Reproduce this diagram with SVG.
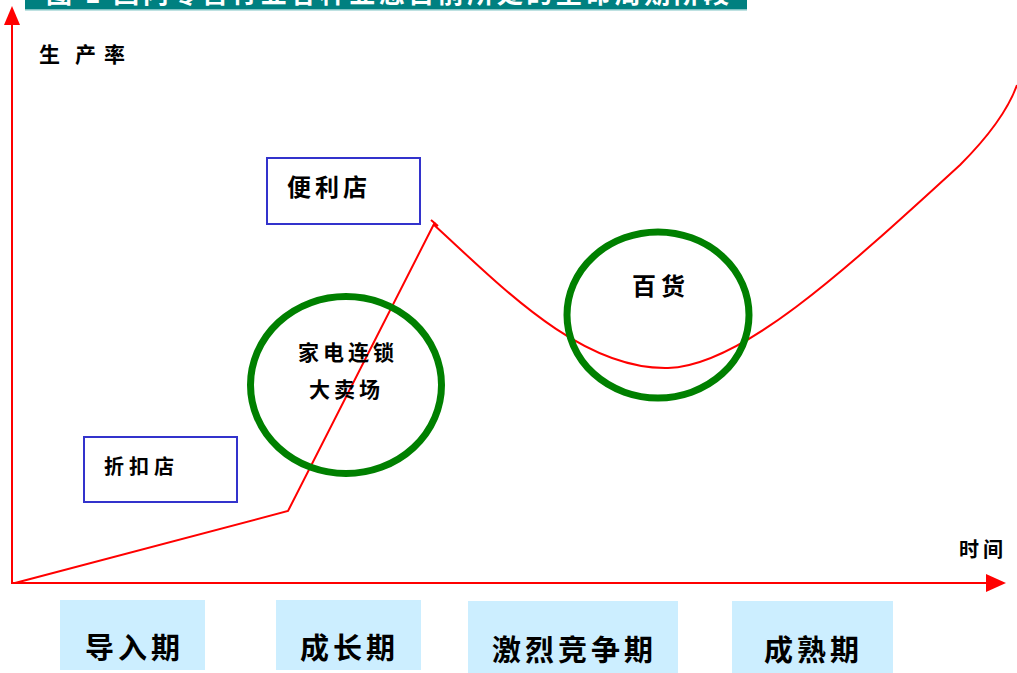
<svg xmlns="http://www.w3.org/2000/svg" width="1017" height="673" viewBox="0 0 1017 673">
<defs>
<style>
.t{font-family:"Noto Sans CJK SC","Noto Sans",sans-serif;font-weight:bold;fill:#000}
.ax{stroke:#ff0000;stroke-width:2;fill:none}
.box{fill:#ffffff;stroke:#3333cc;stroke-width:2}
.ring{fill:none;stroke:#008000;stroke-width:7}
.stage{fill:#cceeff}
</style>
</defs>
<rect width="1017" height="673" fill="#ffffff"/>
<g id="title">
<rect x="25" y="0" width="722" height="9" fill="#008080"/>
<rect x="25" y="9" width="722" height="1.5" fill="#7fc4c4"/>
<text class="t" x="46" y="3" font-size="26" letter-spacing="3.5" style="fill:#ffffff">图 1  国内零售行业各种业态目前所处的生命周期阶段</text>
</g>
<g id="connectors">
<line class="ax" x1="12" y1="584" x2="12" y2="24"/>
<polygon points="12,6 4,25 20,25" fill="#ff0000"/>
<line class="ax" x1="12" y1="583" x2="988" y2="583"/>
<polygon points="1006,583 986,574 986,592" fill="#ff0000"/>
<path class="ax" stroke-width="1.6" d="M15,583 L288,511 L435,222 M431,220 L438,226 M433,224 C500,285 580,370 668,368 C740,366 840,275 960,165 C990,135 1008,110 1017,85"/>
</g>
<g id="axis-y-label"><text class="t" x="39" y="62" font-size="21">生<tspan x="75">产</tspan><tspan x="104">率</tspan></text></g>
<g id="axis-x-label"><text class="t" x="959" y="557" font-size="20" letter-spacing="4">时间</text></g>
<g id="node-convenience">
<rect class="box" x="267" y="158" width="153" height="66"/>
<text class="t" x="287" y="196" font-size="24" letter-spacing="4">便利店</text>
</g>
<g id="node-discount">
<rect class="box" x="84" y="437" width="153" height="65"/>
<text class="t" x="104" y="474" font-size="20" letter-spacing="5">折扣店</text>
</g>
<g id="node-appliance">
<ellipse class="ring" cx="346" cy="385" rx="95.5" ry="88.5"/>
<text class="t" x="298" y="360" font-size="21" letter-spacing="4">家电连锁</text>
<text class="t" x="309" y="397" font-size="21" letter-spacing="4">大卖场</text>
</g>
<g id="node-department">
<ellipse class="ring" cx="658" cy="315" rx="91" ry="83"/>
<text class="t" x="632" y="295" font-size="24" letter-spacing="5">百货</text>
</g>
<g id="stage-intro">
<rect class="stage" x="60" y="600" width="145" height="70"/>
<text class="t" x="85" y="659" font-size="29" letter-spacing="4">导入期</text>
</g>
<g id="stage-growth">
<rect class="stage" x="276" y="600" width="145" height="70"/>
<text class="t" x="300" y="659" font-size="29" letter-spacing="4">成长期</text>
</g>
<g id="stage-competition">
<rect class="stage" x="468" y="601" width="210" height="72"/>
<text class="t" x="492" y="661" font-size="29" letter-spacing="4">激烈竞争期</text>
</g>
<g id="stage-mature">
<rect class="stage" x="732" y="601" width="161" height="72"/>
<text class="t" x="764" y="661" font-size="29" letter-spacing="4">成熟期</text>
</g>
</svg>
